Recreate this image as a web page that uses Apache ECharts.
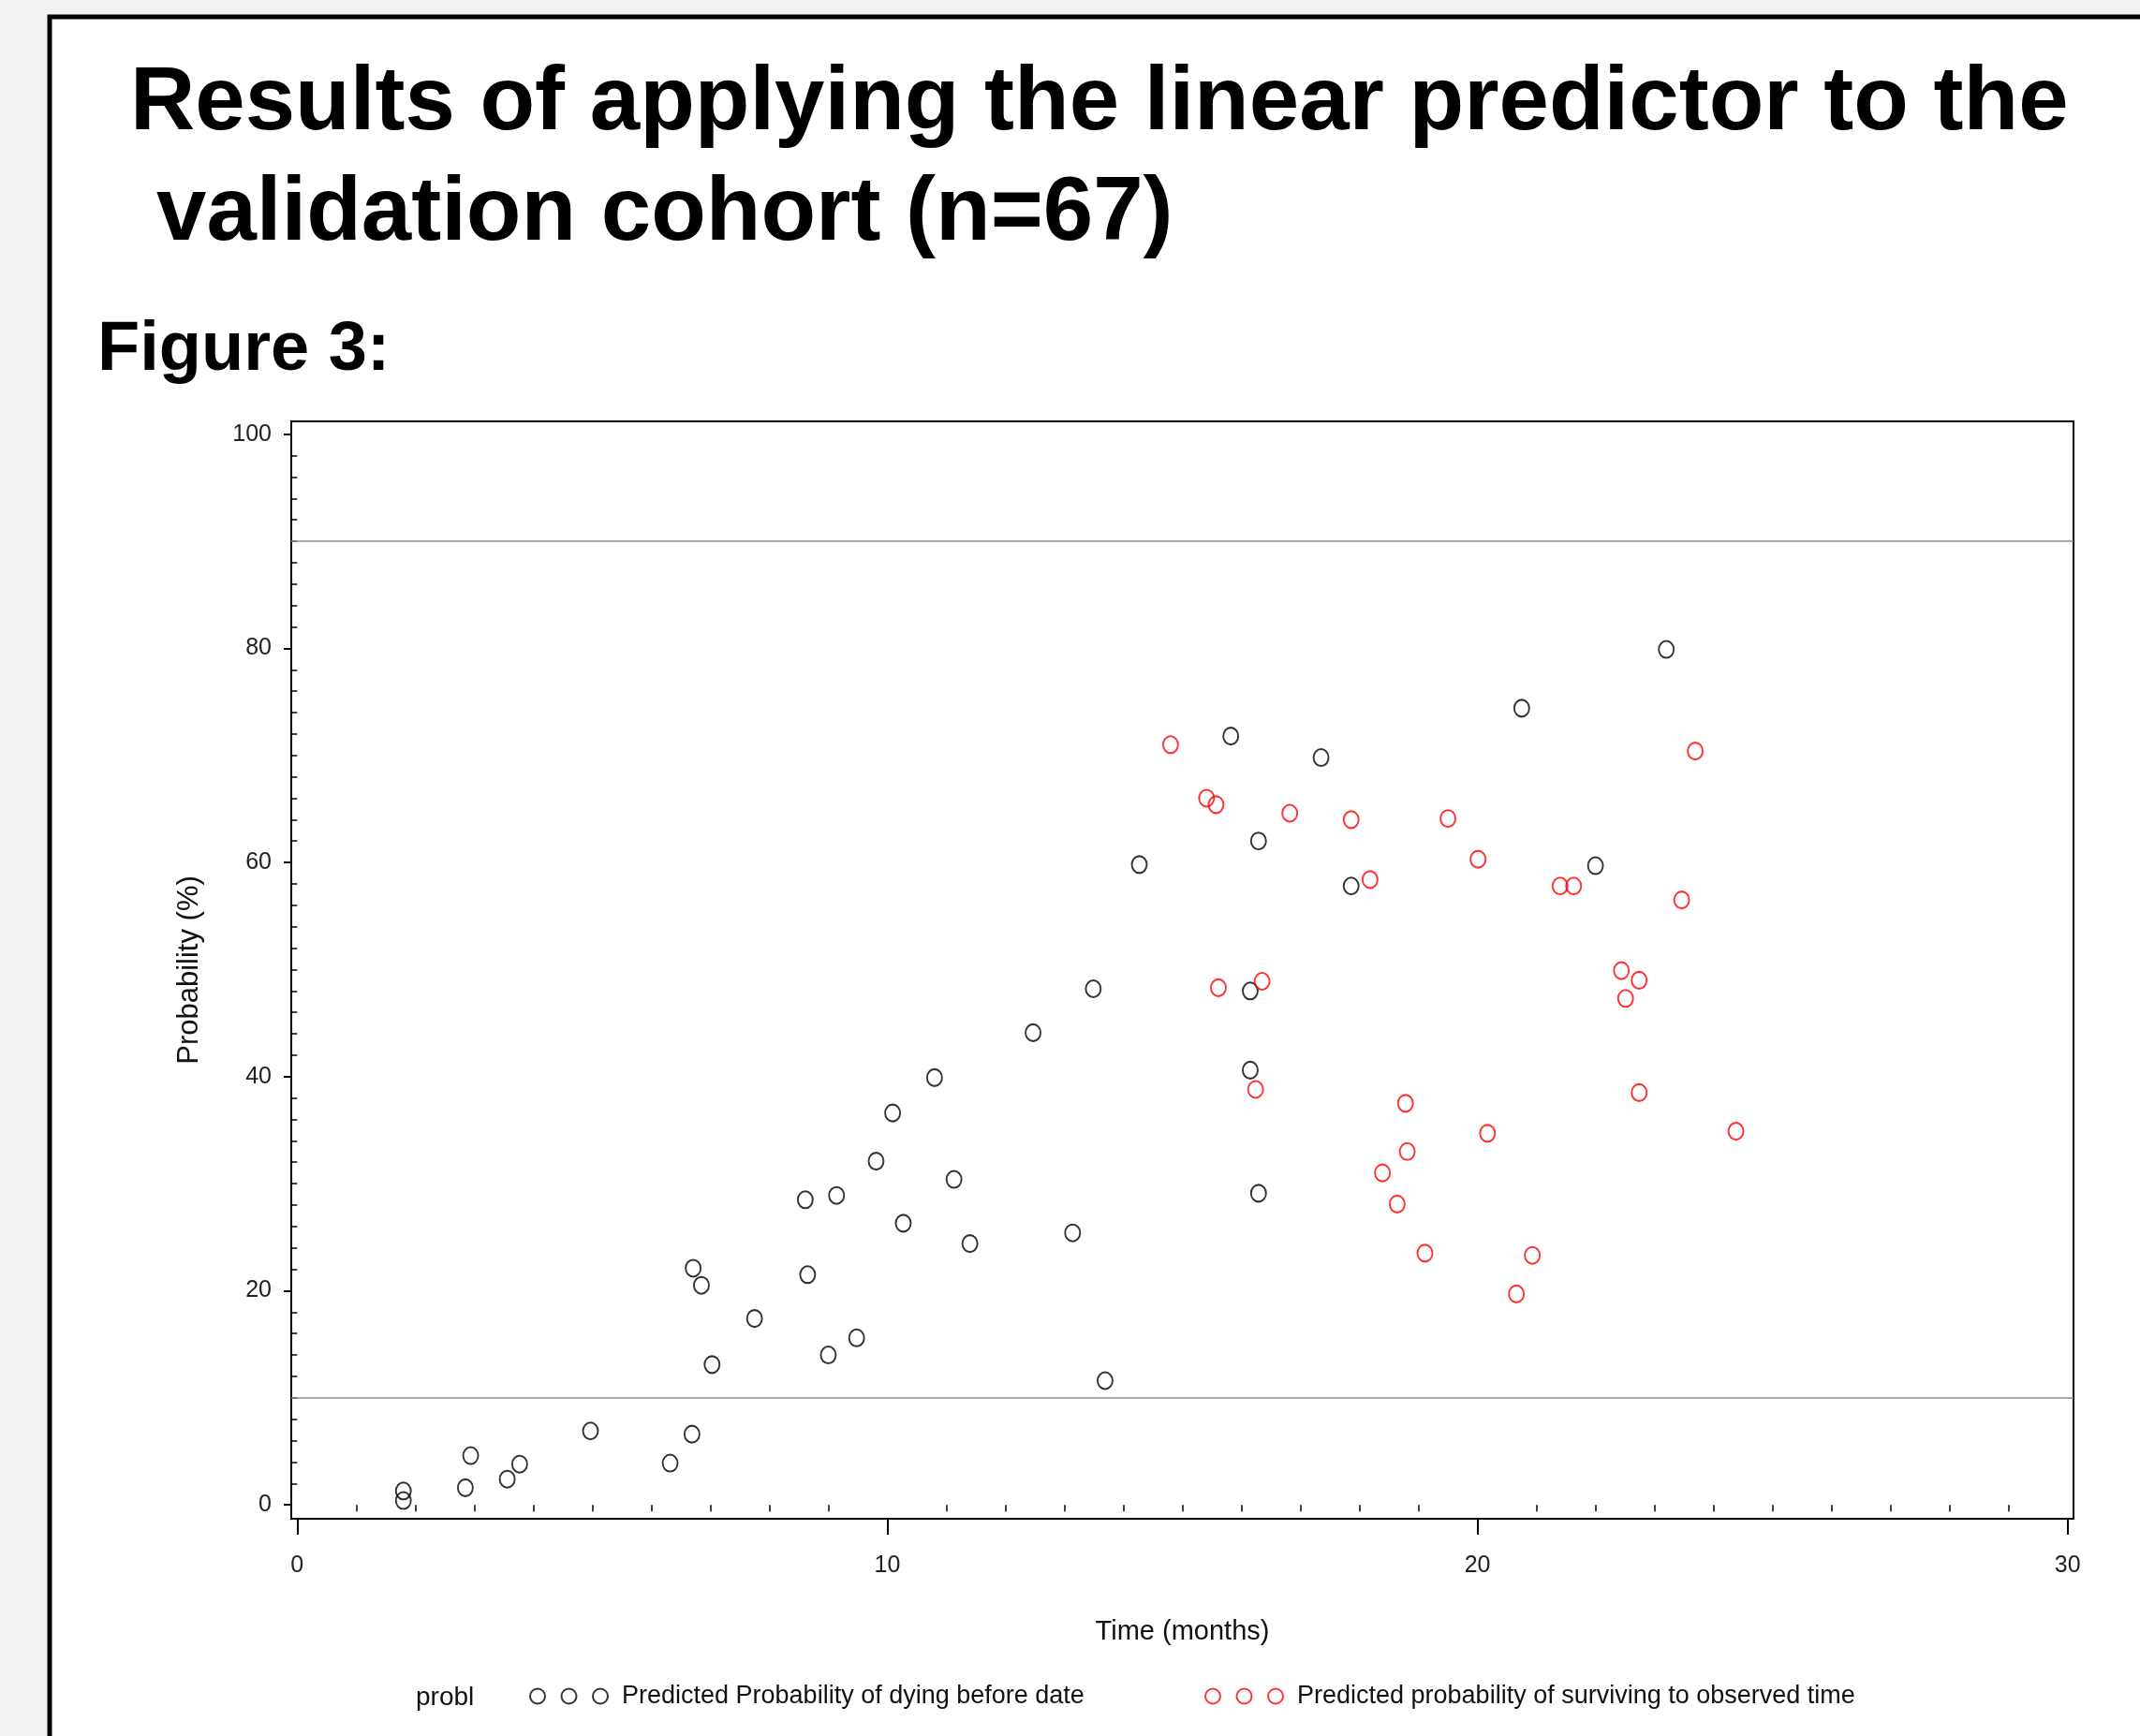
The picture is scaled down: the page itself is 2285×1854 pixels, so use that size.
<!DOCTYPE html>
<html>
<head>
<meta charset="utf-8">
<title>Figure 3</title>
<script src="https://cdn.jsdelivr.net/npm/echarts@6.0.0/dist/echarts.min.js"></script>
<style>
  html, body { margin: 0; padding: 0; background: #f2f2f2; }
  #chart { width: 2285px; height: 1854px; }
</style>
</head>
<body>
<div id="chart"></div>
<script>
// months / predicted probability (%)
const dyingTime = [1.80, 1.80, 2.85, 2.94, 3.56, 3.77, 4.97, 6.32, 6.69, 6.71, 6.85, 7.03, 7.75,
  8.61, 8.65, 9.00, 9.14, 9.48, 9.81, 10.09, 10.27, 10.80, 11.13, 11.40, 12.47, 13.14, 13.49,
  13.69, 14.27, 15.82, 16.15, 16.15, 16.29, 16.29, 17.35, 17.86, 20.75, 22.00, 23.20];
const dyingProb = [1.3, 0.4, 1.6, 4.6, 2.4, 3.8, 6.9, 3.9, 6.6, 22.1, 20.5, 13.1, 17.4,
  28.5, 21.5, 14.0, 28.9, 15.6, 32.1, 36.6, 26.3, 39.9, 30.4, 24.4, 44.1, 25.4, 48.2,
  11.6, 59.8, 71.8, 48.0, 40.6, 62.0, 29.1, 69.8, 57.8, 74.4, 59.7, 79.9];

const survTime = [14.80, 15.41, 15.57, 15.61, 16.35, 16.24, 16.82, 17.86, 18.18, 18.39, 18.64,
  18.78, 18.81, 19.11, 19.50, 20.01, 20.17, 20.66, 20.93, 21.40, 21.63, 22.44, 22.51, 22.74,
  22.74, 23.46, 23.69, 24.38];
const survProb = [71.0, 66.0, 65.4, 48.3, 48.9, 38.8, 64.6, 64.0, 58.4, 31.0, 28.1,
  37.5, 33.0, 23.5, 64.1, 60.3, 34.7, 19.7, 23.3, 57.8, 57.8, 49.9, 47.3, 49.0,
  38.5, 56.5, 70.4, 34.9];

const cutoffs = [10, 90];

const xMajorTicks = [0, 10, 20, 30];
const xMinorTicks = [1, 2, 3, 4, 5, 6, 7, 8, 9, 11, 12, 13, 14, 15, 16, 17, 18, 19,
  21, 22, 23, 24, 25, 26, 27, 28, 29];
const yMajorTicks = [0, 20, 40, 60, 80, 100];
const yMinorTicks = [2, 4, 6, 8, 10, 12, 14, 16, 18, 22, 24, 26, 28, 30, 32, 34, 36, 38,
  42, 44, 46, 48, 50, 52, 54, 56, 58, 62, 64, 66, 68, 70, 72, 74, 76, 78,
  82, 84, 86, 88, 90, 92, 94, 96, 98];

const nameDying = 'Predicted Probability of dying before date';
const nameSurv = 'Predicted probability of surviving to observed time';

const zip = (a, b) => a.map((v, i) => [v, b[i]]);

const sans = "'Liberation Sans', Arial, sans-serif";

// three little circles, like the SAS legend
const threeCircles = 'path://M0,8a8,8 0 1,0 16,0a8,8 0 1,0 -16,0' +
  'M33.5,8a8,8 0 1,0 16,0a8,8 0 1,0 -16,0' +
  'M67,8a8,8 0 1,0 16,0a8,8 0 1,0 -16,0';

const legendBase = {
  orient: 'horizontal',
  top: 1798,
  padding: 0,
  icon: threeCircles,
  itemWidth: 83,
  itemHeight: 16,
  selectedMode: false,
  itemStyle: { borderWidth: 2 },
  textStyle: { fontFamily: sans, fontSize: 27, color: '#111', padding: [0, 0, 0, 10] }
};

const option = {
  backgroundColor: '#f2f2f2',
  animation: false,
  title: [
    { text: 'Results of applying the linear predictor to the', left: 134, top: 59,
      textStyle: { fontFamily: sans, fontSize: 96, fontWeight: 'bold', color: '#000' } },
    { text: 'validation cohort (n=67)', left: 162, top: 177,
      textStyle: { fontFamily: sans, fontSize: 96, fontWeight: 'bold', color: '#000' } },
    { text: 'Figure 3:', left: 99, top: 333,
      textStyle: { fontFamily: sans, fontSize: 74, fontWeight: 'bold', color: '#000' } }
  ],
  graphic: [
    {
      type: 'rect', z: -10, silent: true,
      shape: { x: 53, y: 18, width: 2400, height: 2000 },
      style: { fill: '#fff', stroke: '#000', lineWidth: 5 }
    },
    {
      type: 'text', left: 444, top: 1799, silent: true,
      style: { text: 'probl', font: '28px ' + sans, fill: '#111' }
    }
  ],
  legend: [
    Object.assign({}, legendBase, { left: 565, data: [nameDying] }),
    Object.assign({}, legendBase, { left: 1286, data: [nameSurv] })
  ],
  grid: {
    left: 311, top: 450, width: 1903, height: 1172,
    show: true, borderColor: '#000', borderWidth: 2, backgroundColor: '#fff'
  },
  xAxis: [
    {
      type: 'value', position: 'bottom', min: -0.1, max: 30.1,
      axisLine: { show: true, onZero: false, lineStyle: { color: '#000', width: 2 } },
      axisTick: { show: true, customValues: xMajorTicks, length: 17, lineStyle: { color: '#000', width: 2 } },
      axisLabel: { customValues: xMajorTicks, margin: 38, fontFamily: sans, fontSize: 25, color: '#222' },
      splitLine: { show: false },
      name: 'Time (months)', nameLocation: 'middle', nameGap: 106,
      nameTextStyle: { fontFamily: sans, fontSize: 29, color: '#111' }
    },
    {
      type: 'value', position: 'bottom', offset: 4, min: -0.1, max: 30.1,
      axisLine: { show: false },
      axisTick: { show: true, customValues: xMinorTicks, length: 7, lineStyle: { color: '#000', width: 1.5 } },
      axisLabel: { show: false },
      splitLine: { show: false }
    }
  ],
  yAxis: [
    {
      type: 'value', position: 'left', min: -1.3, max: 101.2,
      axisLine: { show: true, onZero: false, lineStyle: { color: '#000', width: 2 } },
      axisTick: { show: true, customValues: yMajorTicks, length: 8, lineStyle: { color: '#000', width: 2 } },
      axisLabel: { customValues: yMajorTicks, margin: 21, fontFamily: sans, fontSize: 25, color: '#222' },
      splitLine: { show: false },
      name: 'Probability (%)', nameLocation: 'middle', nameGap: 93, nameRotate: 90,
      nameTextStyle: { fontFamily: sans, fontSize: 31, color: '#111' }
    },
    {
      type: 'value', position: 'left', min: -1.3, max: 101.2,
      axisLine: { show: false },
      axisTick: { show: true, customValues: yMinorTicks, length: 6, lineStyle: { color: '#000', width: 1.5 } },
      axisLabel: { show: false },
      splitLine: { show: false }
    }
  ],
  series: [
    {
      name: nameDying,
      type: 'scatter',
      xAxisIndex: 0, yAxisIndex: 0,
      symbol: 'circle', symbolSize: [16, 18],
      itemStyle: { color: 'rgba(0,0,0,0)', borderColor: '#000', borderWidth: 2 },
      data: zip(dyingTime, dyingProb),
      markLine: {
        silent: true,
        symbol: 'none',
        label: { show: false },
        lineStyle: { color: '#8c8c8c', width: 1.5, type: 'solid' },
        data: cutoffs.map(v => ({ yAxis: v }))
      }
    },
    {
      name: nameSurv,
      type: 'scatter',
      xAxisIndex: 0, yAxisIndex: 0,
      symbol: 'circle', symbolSize: [16, 18],
      itemStyle: { color: 'rgba(0,0,0,0)', borderColor: '#ff0000', borderWidth: 2 },
      data: zip(survTime, survProb)
    }
  ]
};

const chart = echarts.init(document.getElementById('chart'));
chart.setOption(option);
</script>
</body>
</html>
